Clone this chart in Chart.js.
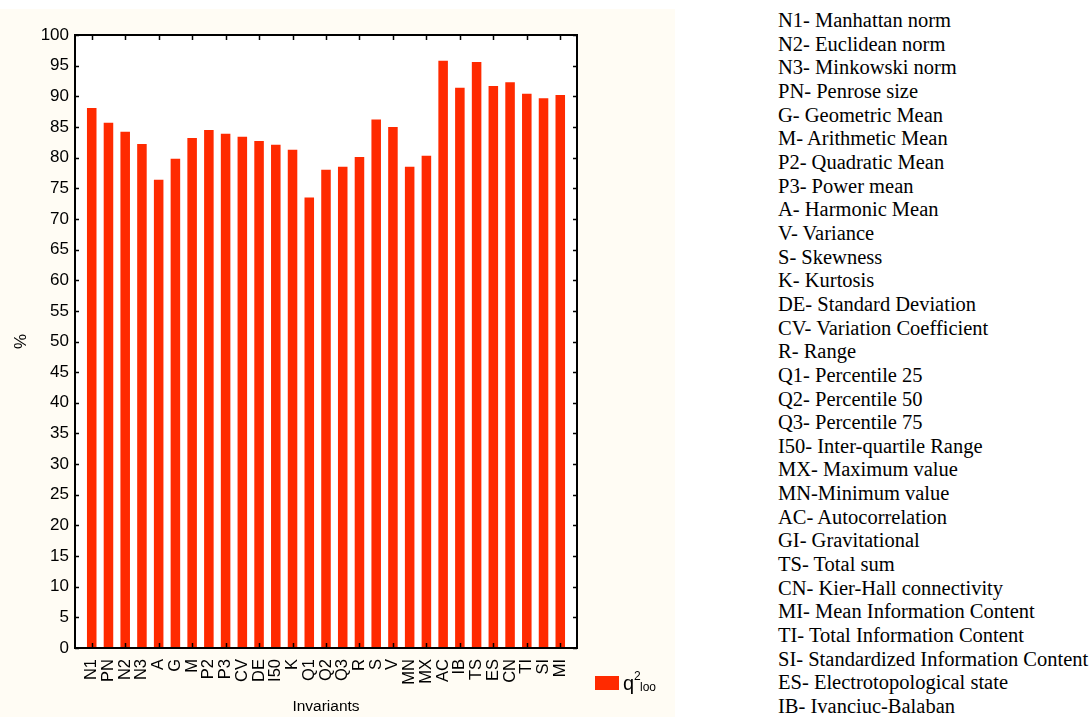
<!DOCTYPE html>
<html>
<head>
<meta charset="utf-8">
<script src="https://cdn.jsdelivr.net/npm/chart.js@4.4.0/dist/chart.umd.min.js"></script>
<style>
  body { margin: 0; background: #fff; width: 1091px; height: 717px; overflow: hidden; position: relative; }
  #panel { position: absolute; left: 0; top: 9px; width: 675px; height: 708px; background: #fffcf4; }
  #leyenda { position: absolute; left: 595px; top: 667px; font-family: "Liberation Sans", Arial, sans-serif; color: #000; }
  #leyenda .caja { position: absolute; left: 0; top: 9px; width: 24px; height: 14px; background: #ff2a00; }
  #leyenda span { position: absolute; white-space: nowrap; line-height: 1; }
  #leyenda .q { left: 28px; top: 6px; font-size: 20px; }
  #leyenda .sup { left: 39px; top: 3px; font-size: 12px; }
  #leyenda .sub { left: 45px; top: 14px; font-size: 12px; }
  #lista { position: absolute; left: 778px; top: 9px; font-family: "Liberation Serif", "Times New Roman", serif; font-size: 20.5px; line-height: 23.65px; color: #000; white-space: nowrap; }
</style>
</head>
<body>
<div id="panel"><canvas id="grafica" width="675" height="708"></canvas></div>
<div id="leyenda"><div class="caja"></div><span class="q">q</span><span class="sup">2</span><span class="sub">loo</span></div>
<div id="lista"></div>
<script>
// Invariantes y valores de q2 (%)
const categorias = ['N1', 'PN', 'N2', 'N3', 'A', 'G', 'M', 'P2', 'P3', 'CV', 'DE', 'I50', 'K', 'Q1', 'Q2', 'Q3', 'R', 'S', 'V', 'MN', 'MX', 'AC', 'IB', 'TS', 'ES', 'CN', 'TI', 'SI', 'MI'];
const valores = [88.1, 85.7, 84.2, 82.2, 76.4, 79.8, 83.2, 84.5, 83.9, 83.4, 82.7, 82.1, 81.3, 73.5, 78.0, 78.5, 80.1, 86.2, 85.0, 78.5, 80.3, 95.8, 91.4, 95.6, 91.7, 92.3, 90.4, 89.7, 90.2];
const ticksY = [0, 5, 10, 15, 20, 25, 30, 35, 40, 45, 50, 55, 60, 65, 70, 75, 80, 85, 90, 95, 100];

const descripciones = [
    'N1- Manhattan norm', 'N2- Euclidean norm', 'N3- Minkowski norm', 'PN- Penrose size',
    'G- Geometric Mean', 'M- Arithmetic Mean', 'P2- Quadratic Mean', 'P3- Power mean',
    'A- Harmonic Mean', 'V- Variance', 'S- Skewness', 'K- Kurtosis', 'DE- Standard Deviation',
    'CV- Variation Coefficient', 'R- Range', 'Q1- Percentile 25', 'Q2- Percentile 50',
    'Q3- Percentile 75', 'I50- Inter-quartile Range', 'MX- Maximum value', 'MN-Minimum value',
    'AC- Autocorrelation', 'GI- Gravitational', 'TS- Total sum', 'CN- Kier-Hall connectivity',
    'MI- Mean Information Content', 'TI- Total Information Content',
    'SI- Standardized Information Content', 'ES- Electrotopological state', 'IB- Ivanciuc-Balaban'
];
document.getElementById('lista').innerHTML = descripciones.map(d => `<div>${d}</div>`).join('');

// una categoria vacia a cada lado para dejar hueco junto a los ejes
const etiquetas = [''].concat(categorias, ['']);
const datos = [null].concat(valores, [null]);

// marco negro y marcas hacia dentro
const marco = {
    id: 'marco',
    beforeDraw(chart) {
        const a = chart.chartArea, ctx = chart.ctx;
        ctx.save();
        ctx.fillStyle = '#ffffff';
        ctx.fillRect(a.left, a.top, a.right - a.left, a.bottom - a.top);
        ctx.restore();
    },
    afterDraw(chart) {
        const a = chart.chartArea, ctx = chart.ctx;
        const x = chart.scales.x, y = chart.scales.y;
        ctx.save();
        ctx.strokeStyle = '#000';
        ctx.lineWidth = 1.5;
        ctx.beginPath();
        ticksY.forEach(v => {
            const py = Math.round(y.getPixelForValue(v)) + 0.5;
            ctx.moveTo(a.left, py); ctx.lineTo(a.left + 4, py);
            ctx.moveTo(a.right, py); ctx.lineTo(a.right - 4, py);
        });
        for (let i = 1; i < etiquetas.length - 1; i += 2) {
            const px = Math.round(x.getPixelForValue(i)) + 0.5;
            ctx.moveTo(px, a.top); ctx.lineTo(px, a.top + 5);
            ctx.moveTo(px, a.bottom); ctx.lineTo(px, a.bottom - 5);
        }
        ctx.stroke();
        ctx.lineWidth = 2;
        ctx.strokeRect(a.left, a.top, a.right - a.left, a.bottom - a.top);
        ctx.restore();
    }
};

new Chart(document.getElementById('grafica'), {
    type: 'bar',
    data: {
        labels: etiquetas,
        datasets: [{
            label: 'q2loo',
            data: datos,
            backgroundColor: '#ff2a00',
            borderWidth: 0,
            barPercentage: 0.57,
            categoryPercentage: 1
        }]
    },
    options: {
        responsive: false,
        animation: false,
        layout: { padding: { top: 26, right: 98, left: 0, bottom: 0 } },
        plugins: { legend: { display: false }, tooltip: { enabled: false } },
        scales: {
            x: {
                offset: false,
                grid: { display: false, drawTicks: false },
                border: { display: false },
                afterFit(scale) { scale.height = 69; },
                ticks: {
                    autoSkip: false, maxRotation: 90, minRotation: 90, padding: 11,
                    color: '#000', font: { family: 'Liberation Sans', size: 16.5 }
                },
                title: {
                    display: true, text: 'Invariants', color: '#000',
                    font: { family: 'Liberation Sans', size: 15.5 }, padding: { top: 0, bottom: 1 }
                }
            },
            y: {
                min: 0, max: 100,
                grid: { display: false, drawTicks: false },
                border: { display: false },
                afterFit(scale) { scale.width = 75; },
                afterBuildTicks(scale) { scale.ticks = ticksY.map(v => ({ value: v })); },
                ticks: {
                    padding: 6, color: '#000',
                    font: { family: 'Liberation Sans', size: 17 }
                },
                title: {
                    display: true, text: '%', color: '#000',
                    font: { family: 'Liberation Sans', size: 17 }, padding: { top: 11, bottom: 0 }
                }
            }
        }
    },
    plugins: [marco]
});
</script>
</body>
</html>
